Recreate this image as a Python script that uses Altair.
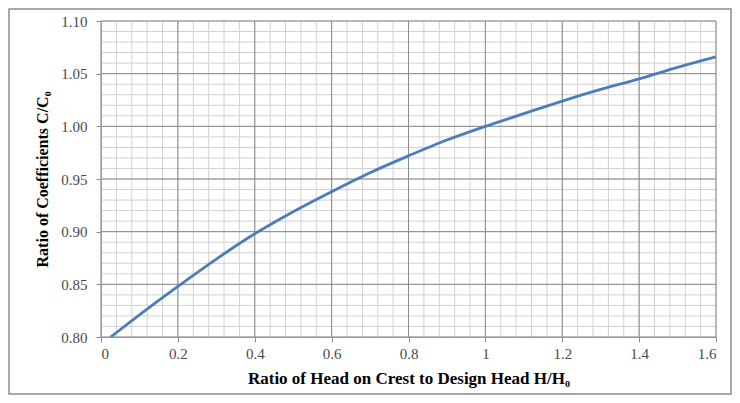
import altair as alt
import pandas as pd

# Curve values
head_ratio = [0.025, 0.1, 0.2, 0.3, 0.4, 0.5, 0.6, 0.7, 0.8, 0.9, 1.0, 1.1, 1.2, 1.3, 1.4, 1.5, 1.6]
coef_ratio = [0.800, 0.821, 0.848, 0.874, 0.898, 0.919, 0.938, 0.956, 0.972, 0.987, 1.000,
              1.012, 1.024, 1.035, 1.045, 1.056, 1.066]

x_major = [0, 0.2, 0.4, 0.6, 0.8, 1.0, 1.2, 1.4, 1.6]
y_major = [0.80, 0.85, 0.90, 0.95, 1.00, 1.05, 1.10]
x_minor = [round(i * 0.04, 2) for i in range(41)]
y_minor = [round(0.80 + i * 0.01, 2) for i in range(31)]

W, H = 615, 316
FONT = "Liberation Serif"

xs = alt.Scale(domain=[0, 1.6], nice=False, zero=False)
ys = alt.Scale(domain=[0.80, 1.10], nice=False, zero=False)

x_axis = alt.Axis(
    title="Ratio of Head on Crest to Design Head H/H₀",
    values=x_major,
    format="~g",
    grid=False,
    tickSize=5,
    tickColor="#8a8a8a",
    domainColor="#8a8a8a",
    labelPadding=4,
    titlePadding=9,
    titleFontSize=17,
)
y_axis = alt.Axis(
    title="Ratio of Coefficients C/C₀",
    values=y_major,
    format=".2f",
    grid=False,
    tickSize=5,
    tickColor="#8a8a8a",
    domainColor="#8a8a8a",
    labelPadding=9,
    titlePadding=10,
    titleFontSize=16,
)

df = pd.DataFrame({"h": head_ratio, "c": coef_ratio})

minor_v = alt.Chart(pd.DataFrame({"h": x_minor})).mark_rule(
    color="#d0d0d0", strokeWidth=1
).encode(x=alt.X("h:Q", scale=xs, axis=x_axis))
minor_h = alt.Chart(pd.DataFrame({"c": y_minor})).mark_rule(
    color="#d0d0d0", strokeWidth=1
).encode(y=alt.Y("c:Q", scale=ys, axis=y_axis))
major_v = alt.Chart(pd.DataFrame({"h": x_major})).mark_rule(
    color="#8a8a8a", strokeWidth=1
).encode(x=alt.X("h:Q", scale=xs, axis=x_axis))
major_h = alt.Chart(pd.DataFrame({"c": y_major})).mark_rule(
    color="#8a8a8a", strokeWidth=1
).encode(y=alt.Y("c:Q", scale=ys, axis=y_axis))

line = alt.Chart(df).mark_line(
    color="#4a7ebb", strokeWidth=2.8, clip=True, interpolate="monotone"
).encode(
    x=alt.X("h:Q", scale=xs, axis=x_axis),
    y=alt.Y("c:Q", scale=ys, axis=y_axis),
)

frame = alt.Chart(pd.DataFrame({"a": [0]})).mark_rect(
    fill=None, stroke="#8c8c8c", strokeWidth=1.5
).encode(
    x=alt.value(-92), x2=alt.value(630), y=alt.value(-12), y2=alt.value(373)
)

chart = alt.layer(minor_v, minor_h, major_v, major_h, line, frame).properties(
    width=W,
    height=H,
    background="white",
    autosize=alt.AutoSizeParams(type="none"),
    padding={"left": 93, "top": 13, "right": 16, "bottom": 58},
).configure_view(stroke=None).configure_axis(
    labelFont=FONT,
    labelFontSize=15,
    labelColor="#4a4a4a",
    titleFont=FONT,
    titleFontWeight="bold",
    titleColor="#000000",
)

chart.save("out.html", embed_options={"renderer": "svg", "actions": False})
